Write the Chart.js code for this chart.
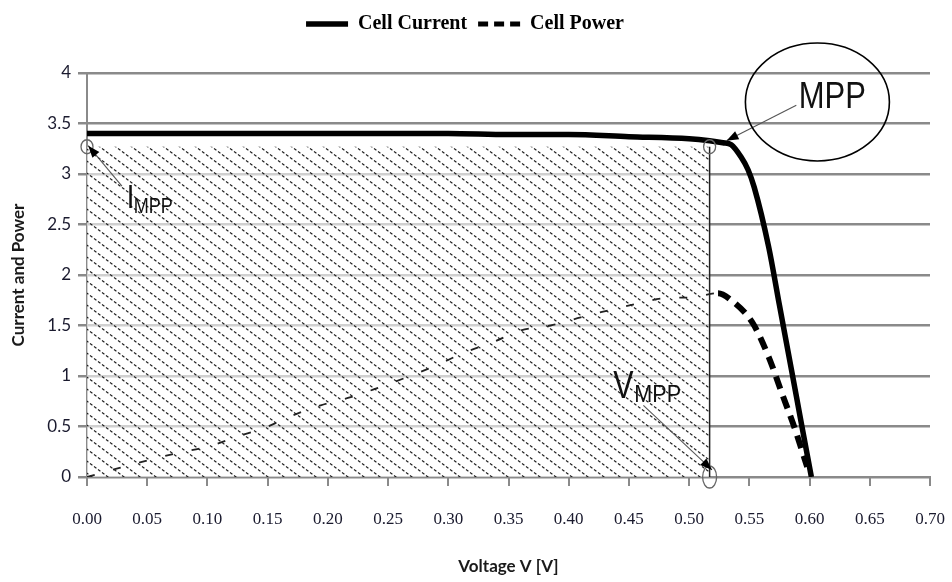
<!DOCTYPE html>
<html>
<head>
<meta charset="utf-8">
<script src="https://cdn.jsdelivr.net/npm/chart.js@4.4.1/dist/chart.umd.min.js"></script>
<style>
  html, body { margin: 0; padding: 0; background: #ffffff; }
  #wrap { width: 952px; height: 582px; }
</style>
</head>
<body>
<div id="wrap"><canvas id="c" width="952" height="582"></canvas></div>
<script>
// ---- data ----
const currentV = [0, 0.05, 0.10, 0.15, 0.20, 0.25, 0.30, 0.35, 0.40, 0.45, 0.50, 0.517, 0.528, 0.535, 0.543, 0.549, 0.554, 0.566, 0.575, 0.585, 0.5935, 0.6015];
const currentI = [3.40, 3.40, 3.40, 3.40, 3.40, 3.40, 3.40, 3.39, 3.39, 3.37, 3.35, 3.33, 3.31, 3.29, 3.17, 3.04, 2.87, 2.28, 1.70, 1.06, 0.51, 0];

const powerV = [0, 0.027, 0.052, 0.076, 0.100, 0.125, 0.150, 0.171, 0.194, 0.219, 0.241, 0.266, 0.291, 0.313, 0.338, 0.360, 0.385, 0.410, 0.433, 0.458, 0.479, 0.504, 0.524, 0.535, 0.553, 0.566, 0.577, 0.588, 0.598];
const powerP = [0, 0.09, 0.17, 0.24, 0.30, 0.40, 0.50, 0.61, 0.71, 0.79, 0.88, 0.99, 1.11, 1.23, 1.34, 1.45, 1.50, 1.58, 1.65, 1.72, 1.77, 1.78, 1.82, 1.75, 1.52, 1.19, 0.83, 0.47, 0.10];

const seriesNames = ['Cell Current', 'Cell Power'];
const mppV = 0.517;
const mppI = 3.27;

const xTickMin = 0, xTickMax = 0.70, xTickStep = 0.05;
const yTickMin = 0, yTickMax = 4, yTickStep = 0.5;
const axisTitles = { x: 'Voltage V [V]', y: 'Current and Power' };

// annotation anchors (data coordinates)
const mppLabel = { text: 'MPP', v: 0.591, i: 3.653 };
const mppEllipse = { v: 0.6065, i: 3.713 };
const mppArrow = [0.589, 3.68, 0.531, 3.33];
const iLabel = { main: 'I', sub: 'MPP', v: 0.033, i: 2.66 };
const iArrow = [0.029, 2.88, 0.001, 3.28];
const vLabel = { main: 'V', sub: 'MPP', v: 0.437, i: 0.78 };
const vArrow = [0.462, 0.71, 0.519, 0.07];

// ---- hatch pattern ----
const pc = document.createElement('canvas');
pc.width = 16; pc.height = 12;
const pg = pc.getContext('2d');
pg.fillStyle = 'rgba(255,255,255,0.6)';
pg.fillRect(0, 0, 16, 12);
pg.strokeStyle = '#1e1e1e';
pg.lineWidth = 1.1;
pg.setLineDash([3, 2]);
for (let k = -1; k <= 1; k++) {
  pg.beginPath();
  pg.moveTo(-2 + 16 * k, -1.5);
  pg.lineTo(18 + 16 * k, 13.5);
  pg.stroke();
}
const hatch = pg.createPattern(pc, 'repeat');

const toXY = (xs, ys) => xs.map((v, i) => ({ x: v, y: ys[i] }));

const gridGray = '#8a8a8a';

const annot = {
  id: 'annot',
  afterDatasetsDraw(chart) {
    const { ctx, scales: { x, y } } = chart;
    const px = v => x.getPixelForValue(v);
    const py = v => y.getPixelForValue(v);
    ctx.save();

    function arrow(a) {
      const x0 = px(a[0]), y0 = py(a[1]), x1 = px(a[2]), y1 = py(a[3]);
      ctx.strokeStyle = '#555'; ctx.lineWidth = 1.1; ctx.setLineDash([]);
      ctx.beginPath(); ctx.moveTo(x0, y0); ctx.lineTo(x1, y1); ctx.stroke();
      const ang = Math.atan2(y1 - y0, x1 - x0);
      const L = 12, W = 4.5;
      ctx.fillStyle = '#000';
      ctx.beginPath();
      ctx.moveTo(x1, y1);
      ctx.lineTo(x1 - L * Math.cos(ang) + W * Math.sin(ang), y1 - L * Math.sin(ang) - W * Math.cos(ang));
      ctx.lineTo(x1 - L * Math.cos(ang) - W * Math.sin(ang), y1 - L * Math.sin(ang) + W * Math.cos(ang));
      ctx.closePath(); ctx.fill();
    }
    function ell(cx, cy, rx, ry) {
      ctx.beginPath(); ctx.ellipse(cx, cy, rx, ry, 0, 0, Math.PI * 2); ctx.stroke();
    }
    function txt(s, xx, yy, size, sx) {
      ctx.save();
      ctx.translate(xx, yy); ctx.scale(sx, 1);
      ctx.font = size + 'px "Liberation Sans", Arial, sans-serif';
      ctx.textBaseline = 'alphabetic'; ctx.textAlign = 'left';
      ctx.fillStyle = '#111';
      ctx.fillText(s, 0, 0);
      ctx.restore();
    }

    // small circles
    ctx.strokeStyle = '#666'; ctx.lineWidth = 1.3;
    ell(px(0), py(mppI), 6, 7);
    ell(px(mppV), py(mppI), 6, 7);
    ell(px(mppV), py(0), 7, 11);

    // arrows
    arrow(mppArrow);
    arrow(iArrow);
    arrow(vArrow);

    // big ellipse around MPP
    ctx.strokeStyle = '#000'; ctx.lineWidth = 1.6;
    ell(px(mppEllipse.v), py(mppEllipse.i), 72, 59);

    // labels
    txt(mppLabel.text, px(mppLabel.v), py(mppLabel.i), 36, 0.86);
    txt(iLabel.main, px(iLabel.v), py(iLabel.i), 34, 0.8);
    txt(iLabel.sub, px(iLabel.v) + 7, py(iLabel.i) + 5, 22, 0.82);
    txt(vLabel.main, px(vLabel.v), py(vLabel.i), 38, 0.8);
    txt(vLabel.sub, px(vLabel.v) + 21, py(vLabel.i) + 4, 24, 0.9);

    ctx.restore();
  }
};

new Chart(document.getElementById('c'), {
  type: 'line',
  data: {
    datasets: [
      {
        label: seriesNames[0],
        data: toXY(currentV, currentI),
        borderColor: '#000',
        backgroundColor: '#000',
        borderWidth: 5.5,
        pointRadius: 0,
        pointStyle: 'line',
        cubicInterpolationMode: 'monotone',
        fill: false,
        order: 1
      },
      {
        label: seriesNames[1],
        data: toXY(powerV, powerP),
        borderColor: '#000',
        backgroundColor: '#000',
        borderWidth: 5,
        borderDash: [10, 6],
        pointRadius: 0,
        pointStyle: 'line',
        cubicInterpolationMode: 'monotone',
        fill: false,
        order: 2,
        segment: {
          borderWidth: c => (c.p0.parsed.x >= mppV ? 6 : 1.8),
          borderDash: c => (c.p0.parsed.x >= mppV ? [13, 8] : [8, 19]),
          borderColor: c => (c.p0.parsed.x >= mppV ? '#000' : '#222')
        }
      },
      {
        label: '_area',
        data: [{ x: 0, y: mppI }, { x: mppV, y: mppI }],
        borderWidth: 0,
        borderColor: 'rgba(0,0,0,0)',
        backgroundColor: hatch,
        pointRadius: 0,
        fill: 'origin',
        tension: 0,
        order: 10
      },
      {
        label: '_edge',
        data: [{ x: mppV, y: 0 }, { x: mppV, y: mppI }],
        borderWidth: 1.5,
        borderColor: '#222',
        pointRadius: 0,
        fill: false,
        tension: 0,
        order: 9
      }
    ]
  },
  options: {
    responsive: false,
    animation: false,
    events: [],
    layout: { padding: { top: 3, right: 22, bottom: 0, left: 0 } },
    plugins: {
      legend: {
        display: true,
        position: 'top',
        weight: 1000,
        labels: {
          filter: item => item.datasetIndex < 2,
          generateLabels: chart => {
            const items = Chart.defaults.plugins.legend.labels.generateLabels(chart);
            items.forEach(it => {
              const ds = chart.data.datasets[it.datasetIndex];
              it.lineDash = ds.borderDash ? ds.borderDash.slice() : [];
              it.lineWidth = ds.borderWidth;
              it.strokeStyle = '#000';
              it.fillStyle = '#000';
              it.pointStyle = 'line';
            });
            return items;
          },
          usePointStyle: true,
          pointStyleWidth: 42,
          boxHeight: 20,
          padding: 11,
          color: '#000',
          font: { family: '"Liberation Serif", "Times New Roman", serif', size: 20, weight: 'bold' }
        }
      },
      title: {
        display: true,
        text: '',
        weight: 500,
        font: { size: 10 },
        padding: { top: 0, bottom: 17 }
      },
      tooltip: { enabled: false }
    },
    scales: {
      x: {
        type: 'linear',
        min: xTickMin,
        max: xTickMax,
        afterFit: s => { s.height = 105; s.paddingRight = 22; s.paddingLeft = 0; },
        border: { display: true, color: gridGray, width: 2 },
        grid: { display: true, drawOnChartArea: false, drawTicks: true, tickLength: 9, color: gridGray, lineWidth: 2 },
        ticks: {
          stepSize: xTickStep,
          autoSkip: false,
          maxRotation: 0,
          padding: 23,
          color: '#1a1a2e',
          font: { family: '"Liberation Serif", "Times New Roman", serif', size: 17 },
          callback: v => Number(v).toFixed(2)
        },
        title: {
          display: true,
          text: axisTitles.x,
          color: '#1a1a1a',
          font: { family: 'Lato, "Open Sans", sans-serif', size: 17, weight: 'bold' },
          padding: { top: 0, bottom: 5 }
        }
      },
      y: {
        type: 'linear',
        min: yTickMin,
        max: yTickMax,
        afterFit: s => { s.width = 87; },
        border: { display: true, color: gridGray, width: 2 },
        grid: { display: true, drawTicks: true, tickLength: 9, color: gridGray, lineWidth: 2.5 },
        ticks: {
          stepSize: yTickStep,
          padding: 7,
          color: '#1a1a2e',
          font: { family: 'Lato, "Open Sans", sans-serif', size: 17 },
          callback: v => String(v)
        },
        title: {
          display: true,
          text: axisTitles.y,
          color: '#1a1a1a',
          font: { family: 'Lato, "Open Sans", sans-serif', size: 17, weight: 'bold' },
          padding: { top: 8, bottom: 0 }
        }
      }
    }
  },
  plugins: [annot]
});
</script>
</body>
</html>
